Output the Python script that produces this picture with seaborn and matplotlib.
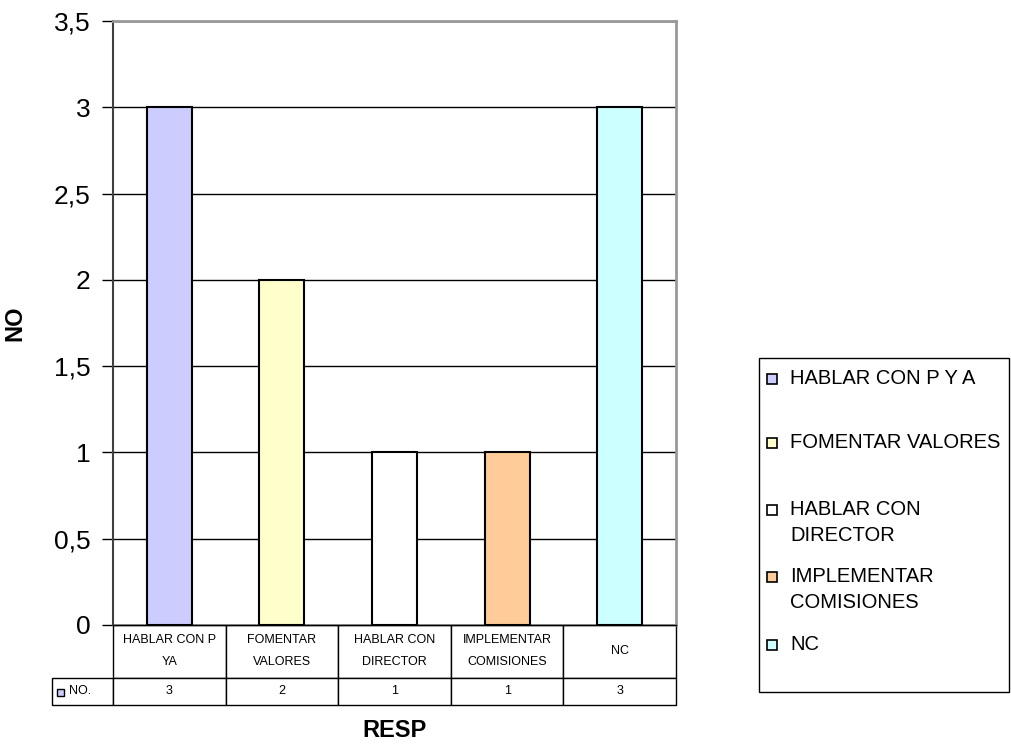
import seaborn as sns
import matplotlib.pyplot as plt
import pandas as pd
from matplotlib.patches import Rectangle
from matplotlib.table import Table
from matplotlib.ticker import FuncFormatter, MultipleLocator

# Data
categories = ["HABLAR CON P Y A", "FOMENTAR VALORES", "HABLAR CON DIRECTOR",
              "IMPLEMENTAR COMISIONES", "NC"]
legend_labels = ["HABLAR CON P Y A", "FOMENTAR VALORES", "HABLAR CON\nDIRECTOR",
                 "IMPLEMENTAR\nCOMISIONES", "NC"]
table_labels = ["HABLAR CON P\nYA", "FOMENTAR\nVALORES", "HABLAR CON\nDIRECTOR",
                "IMPLEMENTAR\nCOMISIONES", "NC"]
values = [3, 2, 1, 1, 3]
colors = ["#CCCCFF", "#FFFFCC", "#FFFFFF", "#FFCC99", "#CCFFFF"]

df = pd.DataFrame({"RESP": categories, "NO": values})

sns.set_style("white")
plt.rcParams["font.family"] = ["Liberation Sans", "DejaVu Sans"]
plt.rcParams["text.color"] = "black"
plt.rcParams["axes.labelcolor"] = "black"
plt.rcParams["ytick.color"] = "black"

fig = plt.figure(figsize=(10.11, 7.47), dpi=100)
W, H = 1011, 747
ax = fig.add_axes([113 / W, 1 - 625 / H, 563 / W, 604 / H])

sns.barplot(data=df, x="RESP", y="NO", hue="RESP", palette=colors, width=0.4,
            saturation=1, edgecolor="black", linewidth=1.5, legend=False, ax=ax,
            zorder=3)

ax.set_ylim(0, 3.5)
ax.set_xlim(-0.5, len(categories) - 0.5)
ax.yaxis.set_major_locator(MultipleLocator(0.5))
ax.yaxis.set_major_formatter(FuncFormatter(lambda v, p: f"{v:g}".replace(".", ",")))
ax.tick_params(axis="y", direction="out", length=8, width=1, color="black",
               labelsize=19, pad=8, left=True)
ax.set_xticks([])
ax.set_xlabel("")
ax.set_ylabel("NO", fontsize=17, fontweight="bold", labelpad=20)
ax.set_axisbelow(True)
ax.yaxis.grid(True, color="black", linewidth=1)

for s in ["top", "right"]:
    ax.spines[s].set_color("#999999")
    ax.spines[s].set_linewidth(2)
ax.spines["left"].set_color("#404040")
ax.spines["left"].set_linewidth(1.5)
ax.spines["bottom"].set_color("black")
ax.spines["bottom"].set_linewidth(1)

# Data table below the plot
tb = Table(ax, bbox=[-61 / 563, -80 / 604, 624 / 563, 80 / 604])
for j, lab in enumerate(table_labels):
    tb.add_cell(0, j + 1, width=112.6, height=52, text=lab, loc="center")
tb.add_cell(1, 0, width=61, height=27, text="    NO.", loc="left")
for j, v in enumerate(values):
    tb.add_cell(1, j + 1, width=112.6, height=27, text=str(v), loc="center")
tb.auto_set_font_size(False)
tb.set_fontsize(9)
for cell in tb.get_celld().values():
    cell.set_edgecolor("black")
    cell.set_linewidth(1)
    cell.PAD = 0.05
    cell.get_text().set_linespacing(2.1)
ax.add_table(tb)

# small legend key in the table row label
fig.patches.append(Rectangle((57 / W, 1 - 696 / H), 7 / W, 7 / H, transform=fig.transFigure,
                             facecolor=colors[0], edgecolor="black", linewidth=1))

ax.text(0.5, -0.175, "RESP", transform=ax.transAxes, ha="center", va="center",
        fontsize=17, fontweight="bold")

# Legend box (Excel-style, drawn by hand)
fig.patches.append(Rectangle((759 / W, 1 - 692 / H), 250 / W, 334 / H,
                             transform=fig.transFigure, facecolor="white",
                             edgecolor="black", linewidth=1))
legend_y = [379, 443, 510, 577, 645]
for lab, c, y in zip(legend_labels, colors, legend_y):
    fig.patches.append(Rectangle((767 / W, 1 - (y + 5) / H), 10 / W, 10 / H,
                                 transform=fig.transFigure, facecolor=c,
                                 edgecolor="black", linewidth=1.2))
    fig.text(790 / W, 1 - (y - 10) / H, lab, ha="left", va="top", fontsize=14.5,
             linespacing=1.45)

fig.savefig("out.png", dpi=100, facecolor="white")
